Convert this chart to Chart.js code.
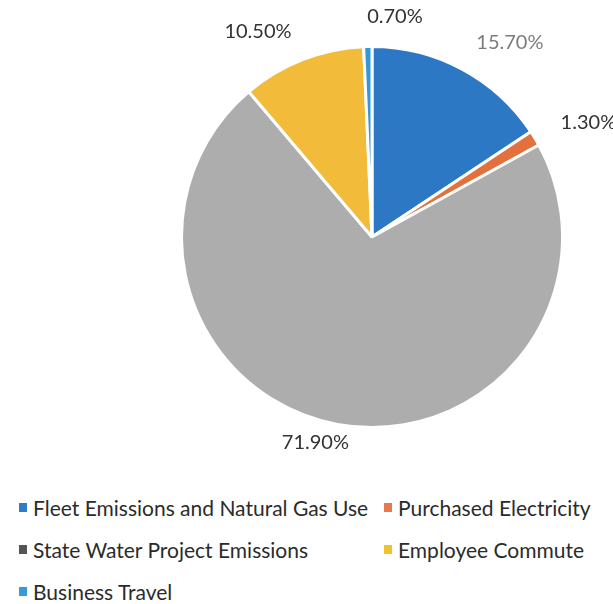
<!DOCTYPE html>
<html>
<head>
<meta charset="utf-8">
<script src="https://cdn.jsdelivr.net/npm/chart.js@4"></script>
<style>
  html, body { margin: 0; padding: 0; background: #ffffff; }
  #wrap { position: relative; width: 613px; height: 604px; overflow: hidden; }
  #chartBox { position: absolute; left: 0; top: 0; width: 613px; height: 470px; }
  #legend {
    position: absolute; left: 19px; top: 494px; width: 594px;
    display: grid; grid-template-columns: 365px 229px; row-gap: 15px;
    font-family: Lato, 'Open Sans', sans-serif; font-size: 21px; color: #2b2b2b;
  }
  .item { display: flex; align-items: center; height: 27px; white-space: nowrap; }
  .swatch { width: 8px; height: 9px; margin-right: 6px; flex: none; }
</style>
</head>
<body>
<div id="wrap">
  <div id="chartBox"><canvas id="emissionsChart"></canvas></div>
  <div id="legend"></div>
</div>
<script>
// data
const categories = [
    'Fleet Emissions and Natural Gas Use',
    'Purchased Electricity',
    'State Water Project Emissions',
    'Employee Commute',
    'Business Travel'
];
const shares = [15.7, 1.3, 71.9, 10.5, 0.7];

// styling
const sliceColors = ['#2c78c4', '#e4703e', '#adadad', '#f3bb3a', '#3497d8'];
const legendColors = ['#2f7dc9', '#e8794c', '#555555', '#f4c12e', '#379bdb'];
const labelColors = ['#7c7c7c', '#333333', '#333333', '#333333', '#333333'];

document.addEventListener('DOMContentLoaded', function () {

    // outside % labels, placed from each arc's own geometry
    const outsideLabels = {
        id: 'outsideLabels',
        afterDatasetsDraw(chart) {
            const ctx = chart.ctx;
            const meta = chart.getDatasetMeta(0);
            ctx.save();
            ctx.font = '20px Lato, "Open Sans", sans-serif';
            ctx.textBaseline = 'middle';
            meta.data.forEach(function (arc, i) {
                const mid = (arc.startAngle + arc.endAngle) / 2;
                let r = arc.outerRadius + 30;
                let dx = Math.cos(mid) * r;
                let dy = Math.sin(mid) * r;
                let align = 'right';
                if (dx >= -10) align = 'left';
                if (dy > 0.9 * r) {
                    // bottom label sits a bit closer and drifts along the tangent
                    align = 'center';
                    r = arc.outerRadius + 18;
                    dx = Math.cos(mid) * r * 1.5;
                    dy = Math.sin(mid) * r;
                }
                ctx.textAlign = align;
                ctx.fillStyle = labelColors[i];
                ctx.fillText(shares[i].toFixed(2) + '%', arc.x + dx, arc.y + dy);
            });
            ctx.restore();
        }
    };

    const ctx = document.getElementById('emissionsChart').getContext('2d');
    new Chart(ctx, {
        type: 'pie',
        data: {
            labels: categories,
            datasets: [{
                data: shares,
                backgroundColor: sliceColors,
                borderColor: '#ffffff',
                borderWidth: 3
            }]
        },
        options: {
            responsive: true,
            maintainAspectRatio: false,
            animation: false,
            layout: { padding: { left: 180, right: 49, top: 45, bottom: 41 } },
            plugins: {
                legend: { display: false },
                tooltip: { enabled: false }
            }
        },
        plugins: [outsideLabels]
    });

    // grid legend like the original
    const legend = document.getElementById('legend');
    categories.forEach(function (name, i) {
        const item = document.createElement('div');
        item.className = 'item';
        const sw = document.createElement('span');
        sw.className = 'swatch';
        sw.style.background = legendColors[i];
        const txt = document.createElement('span');
        txt.textContent = name;
        item.appendChild(sw);
        item.appendChild(txt);
        legend.appendChild(item);
    });
});
</script>
</body>
</html>
